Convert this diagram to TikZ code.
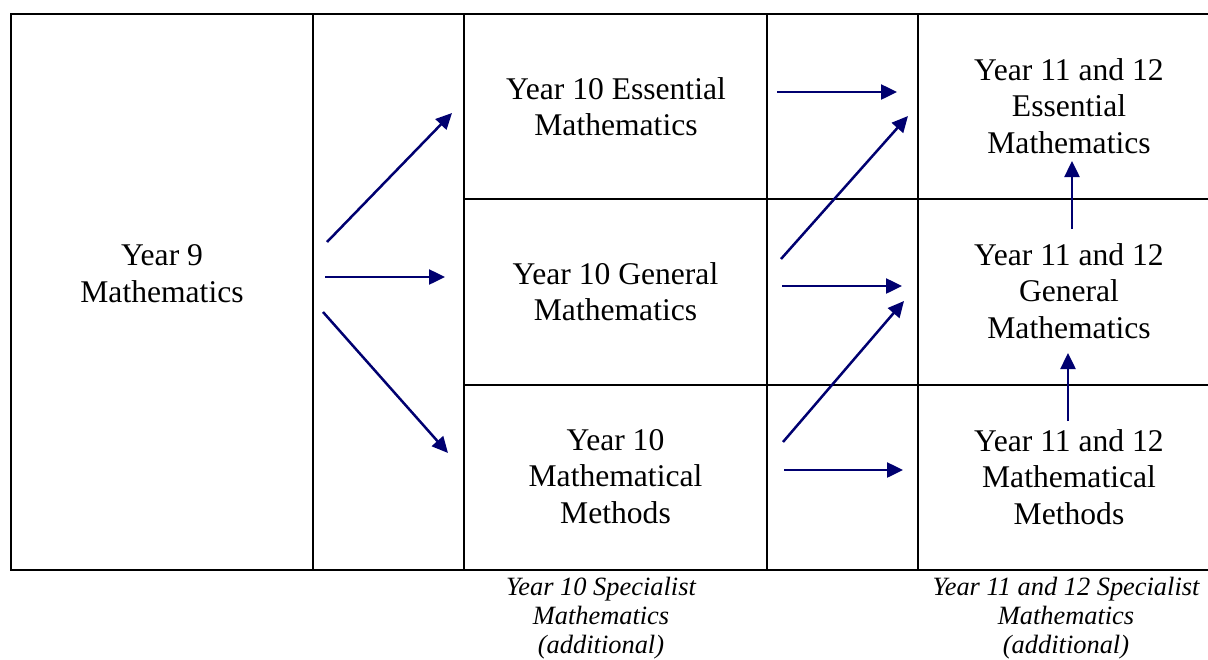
\documentclass[tikz,border=0pt]{standalone}
\usepackage{fontspec}
\setmainfont{Liberation Serif}
\usepackage{tikz}
\usetikzlibrary{arrows.meta, positioning, calc}
\usepackage{xcolor}
\definecolor{mnavy}{HTML}{000070}
\tikzset{
  cellbox/.style={align=center, inner sep=0pt,
                  font=\fontsize{31.6}{36.5}\selectfont},
  notebox/.style={align=center, inner sep=0pt, anchor=north,
                  font=\fontsize{26.4}{29.2}\selectfont\itshape},
  gridline/.style={line width=2pt, black},
  arr/.style={-{Triangle[length=16pt, width=15pt]}, line width=2.5pt, mnavy},
}

\begin{document}
\begin{tikzpicture}[x=1pt, y={(0,-1pt)}]

  \useasboundingbox (0,0) rectangle (1208,659);

  %% Table frame
  \draw[gridline] (1208,14) -- (11,14) -- (11,570) -- (1208,570);
  \foreach \xc in {313,464,767,918}
    \draw[gridline] (\xc,14) -- (\xc,570);
  \draw[gridline] (464,199) -- (1208,199);
  \draw[gridline] (464,385) -- (1208,385);

  %% Year 9
  \node[cellbox] (y9) at (162,273.5) {Year 9\\Mathematics};

  %% Year 10 courses
  \node[cellbox] (ess10) at (616,106.5) {Year 10 Essential\\Mathematics};
  \node[cellbox] (gen10) at (615.5,291.5) {Year 10 General\\Mathematics};
  \node[cellbox] (meth10) at (615.5,476.5) {Year 10\\Mathematical\\Methods};

  %% Year 11 and 12 courses
  \node[cellbox] (ess11) at (1069,106) {Year 11 and 12\\Essential\\Mathematics};
  \node[cellbox] (gen11) at (1069,291) {Year 11 and 12\\General\\Mathematics};
  \node[cellbox] (meth11) at (1069,477) {Year 11 and 12\\Mathematical\\Methods};

  %% Specialist notes below the table
  \node[notebox] (spec10) at (601,577) {Year 10 Specialist\\Mathematics\\(additional)};
  \node[notebox] (spec11) at (1066,577) {Year 11 and 12 Specialist\\Mathematics\\(additional)};

  %% Arrow ends
  \coordinate (y9a) at (327,242);   \coordinate (ess10in) at (452,113);
  \coordinate (y9b) at (325,277);   \coordinate (gen10in) at (445,277);
  \coordinate (y9c) at (323,312);   \coordinate (meth10in) at (448,453);

  \coordinate (ess10out) at (777,92);    \coordinate (ess11a) at (897,92);
  \coordinate (gen10up) at (781,259);    \coordinate (ess11b) at (908,116);
  \coordinate (gen10out) at (782,286);   \coordinate (gen11a) at (902,286);
  \coordinate (meth10up) at (783,442);   \coordinate (gen11b) at (904,301);
  \coordinate (meth10out) at (784,470);  \coordinate (meth11a) at (903,470);

  \coordinate (gen11up) at (1072,229);   \coordinate (ess11c) at (1072,161);
  \coordinate (meth11up) at (1068,421);  \coordinate (gen11c) at (1068,353);

  %% Year 9 to Year 10
  \draw[arr] (y9a) -- (ess10in);
  \draw[arr] (y9b) -- (gen10in);
  \draw[arr] (y9c) -- (meth10in);

  %% Year 10 to Year 11 and 12
  \draw[arr] (ess10out) -- (ess11a);
  \draw[arr] (gen10up) -- (ess11b);
  \draw[arr] (gen10out) -- (gen11a);
  \draw[arr] (meth10up) -- (gen11b);
  \draw[arr] (meth10out) -- (meth11a);

  %% Moving up within Year 11 and 12
  \draw[arr] (gen11up) -- (ess11c);
  \draw[arr] (meth11up) -- (gen11c);

\end{tikzpicture}
\end{document}
